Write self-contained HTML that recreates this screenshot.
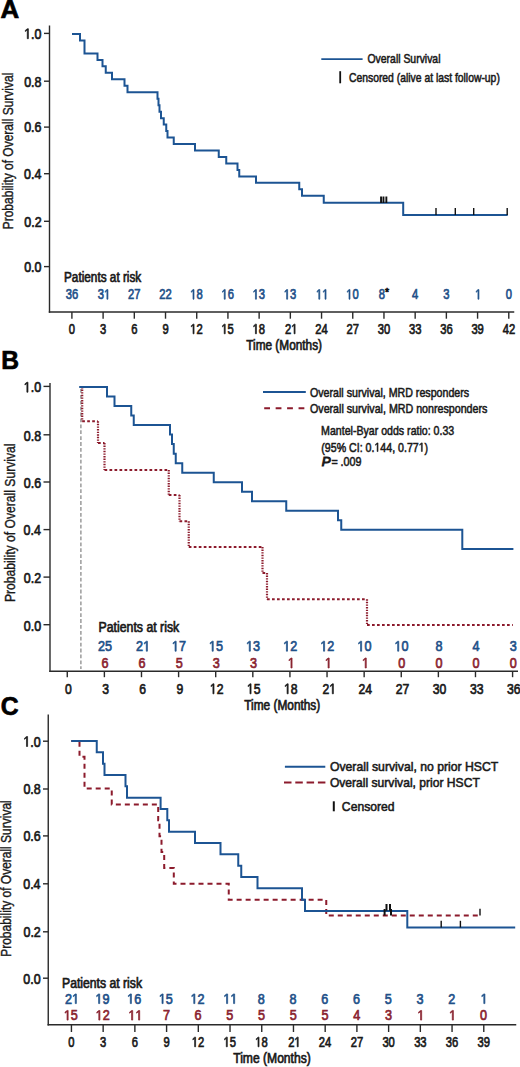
<!DOCTYPE html>
<html><head><meta charset="utf-8"><style>
html,body{margin:0;padding:0;background:#fff;}
svg{display:block;}
text{font-family:"Liberation Sans",sans-serif;stroke:currentColor;stroke-width:0.7px;}
</style></head><body>
<svg width="520" height="1067" viewBox="0 0 520 1067">
<rect width="520" height="1067" fill="#fff"/>
<text x="0.50" y="17.80" font-size="26" fill="#000" color="#000" style="stroke-width:0.7px" font-weight="bold" textLength="18.67" lengthAdjust="spacingAndGlyphs">A</text>
<line x1="49.5" y1="25.6" x2="49.5" y2="312.7" stroke="#2a2a2a" stroke-width="1.4"/>
<line x1="48.8" y1="312" x2="514.25" y2="312" stroke="#2a2a2a" stroke-width="1.4"/>
<line x1="44" y1="33.4" x2="49.5" y2="33.4" stroke="#2a2a2a" stroke-width="1.4"/>
<text x="24.14" y="38.70" font-size="14.5" fill="#1a1a1a" color="#1a1a1a" style="stroke-width:0.7px" textLength="17.34" lengthAdjust="spacingAndGlyphs"> .0</text>
<path transform="translate(24.14,38.70) scale(0.00609,-0.00708)" d="M515,0V1237L197,1010V1180L530,1409H696V0Z" fill="#1a1a1a" stroke="#1a1a1a" stroke-width="0.7" vector-effect="non-scaling-stroke"/>
<line x1="44" y1="81.2" x2="49.5" y2="81.2" stroke="#2a2a2a" stroke-width="1.4"/>
<text x="24.19" y="86.50" font-size="14.5" fill="#1a1a1a" color="#1a1a1a" style="stroke-width:0.7px" textLength="17.34" lengthAdjust="spacingAndGlyphs">0.8</text>
<line x1="44" y1="127.1" x2="49.5" y2="127.1" stroke="#2a2a2a" stroke-width="1.4"/>
<text x="24.19" y="132.40" font-size="14.5" fill="#1a1a1a" color="#1a1a1a" style="stroke-width:0.7px" textLength="17.34" lengthAdjust="spacingAndGlyphs">0.6</text>
<line x1="44" y1="173.7" x2="49.5" y2="173.7" stroke="#2a2a2a" stroke-width="1.4"/>
<text x="24.02" y="179.00" font-size="14.5" fill="#1a1a1a" color="#1a1a1a" style="stroke-width:0.7px" textLength="17.34" lengthAdjust="spacingAndGlyphs">0.4</text>
<line x1="44" y1="221.3" x2="49.5" y2="221.3" stroke="#2a2a2a" stroke-width="1.4"/>
<text x="24.27" y="226.60" font-size="14.5" fill="#1a1a1a" color="#1a1a1a" style="stroke-width:0.7px" textLength="17.34" lengthAdjust="spacingAndGlyphs">0.2</text>
<line x1="44" y1="266.6" x2="49.5" y2="266.6" stroke="#2a2a2a" stroke-width="1.4"/>
<text x="24.14" y="271.90" font-size="14.5" fill="#1a1a1a" color="#1a1a1a" style="stroke-width:0.7px" textLength="17.34" lengthAdjust="spacingAndGlyphs">0.0</text>
<line x1="71.9" y1="312" x2="71.9" y2="318.7" stroke="#2a2a2a" stroke-width="1.4"/>
<text x="68.78" y="333.80" font-size="14" fill="#1a1a1a" color="#1a1a1a" style="stroke-width:0.7px" textLength="6.23" lengthAdjust="spacingAndGlyphs">0</text>
<text x="65.70" y="299.20" font-size="14" fill="#1f5189" color="#1f5189" style="stroke-width:0.7px" textLength="12.46" lengthAdjust="spacingAndGlyphs">36</text>
<line x1="103.106" y1="312" x2="103.106" y2="318.7" stroke="#2a2a2a" stroke-width="1.4"/>
<text x="100.03" y="333.80" font-size="14" fill="#1a1a1a" color="#1a1a1a" style="stroke-width:0.7px" textLength="6.23" lengthAdjust="spacingAndGlyphs">3</text>
<text x="97.87" y="299.20" font-size="14" fill="#1f5189" color="#1f5189" style="stroke-width:0.7px" textLength="12.46" lengthAdjust="spacingAndGlyphs">3 </text>
<path transform="translate(104.10,299.20) scale(0.00547,-0.00684)" d="M515,0V1237L197,1010V1180L530,1409H696V0Z" fill="#1f5189" stroke="#1f5189" stroke-width="0.7" vector-effect="non-scaling-stroke"/>
<line x1="134.312" y1="312" x2="134.312" y2="318.7" stroke="#2a2a2a" stroke-width="1.4"/>
<text x="131.17" y="333.80" font-size="14" fill="#1a1a1a" color="#1a1a1a" style="stroke-width:0.7px" textLength="6.23" lengthAdjust="spacingAndGlyphs">6</text>
<text x="128.07" y="299.20" font-size="14" fill="#1f5189" color="#1f5189" style="stroke-width:0.7px" textLength="12.46" lengthAdjust="spacingAndGlyphs">27</text>
<line x1="165.518" y1="312" x2="165.518" y2="318.7" stroke="#2a2a2a" stroke-width="1.4"/>
<text x="162.42" y="333.80" font-size="14" fill="#1a1a1a" color="#1a1a1a" style="stroke-width:0.7px" textLength="6.23" lengthAdjust="spacingAndGlyphs">9</text>
<text x="159.28" y="299.20" font-size="14" fill="#1f5189" color="#1f5189" style="stroke-width:0.7px" textLength="12.46" lengthAdjust="spacingAndGlyphs">22</text>
<line x1="196.724" y1="312" x2="196.724" y2="318.7" stroke="#2a2a2a" stroke-width="1.4"/>
<text x="190.23" y="333.80" font-size="14" fill="#1a1a1a" color="#1a1a1a" style="stroke-width:0.7px" textLength="12.46" lengthAdjust="spacingAndGlyphs"> 2</text>
<path transform="translate(190.23,333.80) scale(0.00547,-0.00684)" d="M515,0V1237L197,1010V1180L530,1409H696V0Z" fill="#1a1a1a" stroke="#1a1a1a" stroke-width="0.7" vector-effect="non-scaling-stroke"/>
<text x="190.19" y="299.20" font-size="14" fill="#1f5189" color="#1f5189" style="stroke-width:0.7px" textLength="12.46" lengthAdjust="spacingAndGlyphs"> 8</text>
<path transform="translate(190.19,299.20) scale(0.00547,-0.00684)" d="M515,0V1237L197,1010V1180L530,1409H696V0Z" fill="#1f5189" stroke="#1f5189" stroke-width="0.7" vector-effect="non-scaling-stroke"/>
<line x1="227.93" y1="312" x2="227.93" y2="318.7" stroke="#2a2a2a" stroke-width="1.4"/>
<text x="221.39" y="333.80" font-size="14" fill="#1a1a1a" color="#1a1a1a" style="stroke-width:0.7px" textLength="12.46" lengthAdjust="spacingAndGlyphs"> 5</text>
<path transform="translate(221.39,333.80) scale(0.00547,-0.00684)" d="M515,0V1237L197,1010V1180L530,1409H696V0Z" fill="#1a1a1a" stroke="#1a1a1a" stroke-width="0.7" vector-effect="non-scaling-stroke"/>
<text x="221.41" y="299.20" font-size="14" fill="#1f5189" color="#1f5189" style="stroke-width:0.7px" textLength="12.46" lengthAdjust="spacingAndGlyphs"> 6</text>
<path transform="translate(221.41,299.20) scale(0.00547,-0.00684)" d="M515,0V1237L197,1010V1180L530,1409H696V0Z" fill="#1f5189" stroke="#1f5189" stroke-width="0.7" vector-effect="non-scaling-stroke"/>
<line x1="259.13599999999997" y1="312" x2="259.13599999999997" y2="318.7" stroke="#2a2a2a" stroke-width="1.4"/>
<text x="252.60" y="333.80" font-size="14" fill="#1a1a1a" color="#1a1a1a" style="stroke-width:0.7px" textLength="12.46" lengthAdjust="spacingAndGlyphs"> 8</text>
<path transform="translate(252.60,333.80) scale(0.00547,-0.00684)" d="M515,0V1237L197,1010V1180L530,1409H696V0Z" fill="#1a1a1a" stroke="#1a1a1a" stroke-width="0.7" vector-effect="non-scaling-stroke"/>
<text x="252.62" y="299.20" font-size="14" fill="#1f5189" color="#1f5189" style="stroke-width:0.7px" textLength="12.46" lengthAdjust="spacingAndGlyphs"> 3</text>
<path transform="translate(252.62,299.20) scale(0.00547,-0.00684)" d="M515,0V1237L197,1010V1180L530,1409H696V0Z" fill="#1f5189" stroke="#1f5189" stroke-width="0.7" vector-effect="non-scaling-stroke"/>
<line x1="290.342" y1="312" x2="290.342" y2="318.7" stroke="#2a2a2a" stroke-width="1.4"/>
<text x="285.04" y="333.80" font-size="14" fill="#1a1a1a" color="#1a1a1a" style="stroke-width:0.7px" textLength="12.46" lengthAdjust="spacingAndGlyphs">2 </text>
<path transform="translate(291.27,333.80) scale(0.00547,-0.00684)" d="M515,0V1237L197,1010V1180L530,1409H696V0Z" fill="#1a1a1a" stroke="#1a1a1a" stroke-width="0.7" vector-effect="non-scaling-stroke"/>
<text x="283.82" y="299.20" font-size="14" fill="#1f5189" color="#1f5189" style="stroke-width:0.7px" textLength="12.46" lengthAdjust="spacingAndGlyphs"> 3</text>
<path transform="translate(283.82,299.20) scale(0.00547,-0.00684)" d="M515,0V1237L197,1010V1180L530,1409H696V0Z" fill="#1f5189" stroke="#1f5189" stroke-width="0.7" vector-effect="non-scaling-stroke"/>
<line x1="321.548" y1="312" x2="321.548" y2="318.7" stroke="#2a2a2a" stroke-width="1.4"/>
<text x="315.19" y="333.80" font-size="14" fill="#1a1a1a" color="#1a1a1a" style="stroke-width:0.7px" textLength="12.46" lengthAdjust="spacingAndGlyphs">24</text>
<text x="315.99" y="299.20" font-size="14" fill="#1f5189" color="#1f5189" style="stroke-width:0.7px" textLength="12.46" lengthAdjust="spacingAndGlyphs">  </text>
<path transform="translate(315.99,299.20) scale(0.00547,-0.00684)" d="M515,0V1237L197,1010V1180L530,1409H696V0Z" fill="#1f5189" stroke="#1f5189" stroke-width="0.7" vector-effect="non-scaling-stroke"/>
<path transform="translate(322.22,299.20) scale(0.00547,-0.00684)" d="M515,0V1237L197,1010V1180L530,1409H696V0Z" fill="#1f5189" stroke="#1f5189" stroke-width="0.7" vector-effect="non-scaling-stroke"/>
<line x1="352.754" y1="312" x2="352.754" y2="318.7" stroke="#2a2a2a" stroke-width="1.4"/>
<text x="346.51" y="333.80" font-size="14" fill="#1a1a1a" color="#1a1a1a" style="stroke-width:0.7px" textLength="12.46" lengthAdjust="spacingAndGlyphs">27</text>
<text x="346.20" y="299.20" font-size="14" fill="#1f5189" color="#1f5189" style="stroke-width:0.7px" textLength="12.46" lengthAdjust="spacingAndGlyphs"> 0</text>
<path transform="translate(346.20,299.20) scale(0.00547,-0.00684)" d="M515,0V1237L197,1010V1180L530,1409H696V0Z" fill="#1f5189" stroke="#1f5189" stroke-width="0.7" vector-effect="non-scaling-stroke"/>
<line x1="383.96000000000004" y1="312" x2="383.96000000000004" y2="318.7" stroke="#2a2a2a" stroke-width="1.4"/>
<text x="377.72" y="333.80" font-size="14" fill="#1a1a1a" color="#1a1a1a" style="stroke-width:0.7px" textLength="12.46" lengthAdjust="spacingAndGlyphs">30</text>
<text x="378.63" y="298.90" font-size="14" fill="#1f5189" color="#1f5189" style="stroke-width:0.7px" textLength="6.23" lengthAdjust="spacingAndGlyphs">8</text>
<text x="384.9" y="295.6" font-size="10.5" fill="#111" color="#111">*</text>
<line x1="415.16599999999994" y1="312" x2="415.16599999999994" y2="318.7" stroke="#2a2a2a" stroke-width="1.4"/>
<text x="408.97" y="333.80" font-size="14" fill="#1a1a1a" color="#1a1a1a" style="stroke-width:0.7px" textLength="12.46" lengthAdjust="spacingAndGlyphs">33</text>
<text x="412.09" y="299.20" font-size="14" fill="#1f5189" color="#1f5189" style="stroke-width:0.7px" textLength="6.23" lengthAdjust="spacingAndGlyphs">4</text>
<line x1="446.37199999999996" y1="312" x2="446.37199999999996" y2="318.7" stroke="#2a2a2a" stroke-width="1.4"/>
<text x="440.17" y="333.80" font-size="14" fill="#1a1a1a" color="#1a1a1a" style="stroke-width:0.7px" textLength="12.46" lengthAdjust="spacingAndGlyphs">36</text>
<text x="443.29" y="299.20" font-size="14" fill="#1f5189" color="#1f5189" style="stroke-width:0.7px" textLength="6.23" lengthAdjust="spacingAndGlyphs">3</text>
<line x1="477.578" y1="312" x2="477.578" y2="318.7" stroke="#2a2a2a" stroke-width="1.4"/>
<text x="471.40" y="333.80" font-size="14" fill="#1a1a1a" color="#1a1a1a" style="stroke-width:0.7px" textLength="12.46" lengthAdjust="spacingAndGlyphs">39</text>
<text x="475.14" y="299.20" font-size="14" fill="#1f5189" color="#1f5189" style="stroke-width:0.7px" textLength="6.23" lengthAdjust="spacingAndGlyphs"> </text>
<path transform="translate(475.14,299.20) scale(0.00547,-0.00684)" d="M515,0V1237L197,1010V1180L530,1409H696V0Z" fill="#1f5189" stroke="#1f5189" stroke-width="0.7" vector-effect="non-scaling-stroke"/>
<line x1="508.784" y1="312" x2="508.784" y2="318.7" stroke="#2a2a2a" stroke-width="1.4"/>
<text x="502.70" y="333.80" font-size="14" fill="#1a1a1a" color="#1a1a1a" style="stroke-width:0.7px" textLength="12.46" lengthAdjust="spacingAndGlyphs">42</text>
<text x="505.66" y="299.20" font-size="14" fill="#1f5189" color="#1f5189" style="stroke-width:0.7px" textLength="6.23" lengthAdjust="spacingAndGlyphs">0</text>
<text x="246.25" y="350.40" font-size="14" fill="#1a1a1a" color="#1a1a1a" style="stroke-width:0.7px" textLength="75.73" lengthAdjust="spacingAndGlyphs">Time (Months)</text>
<text x="64.03" y="282.20" font-size="14" fill="#1a1a1a" color="#1a1a1a" style="stroke-width:0.7px" textLength="77.23" lengthAdjust="spacingAndGlyphs">Patients at risk</text>
<text transform="translate(12.70,228.30) rotate(-90)" x="-1.00" y="0" font-size="15" fill="#1a1a1a" color="#1a1a1a" style="stroke-width:0.4px" textLength="156.67" lengthAdjust="spacingAndGlyphs">Probability of Overall Survival</text>
<line x1="321.3" y1="59.2" x2="362.6" y2="59.2" stroke="#1c5493" stroke-width="1.7"/>
<text x="367.50" y="63.00" font-size="12.5" fill="#1a1a1a" color="#1a1a1a" style="stroke-width:0.55px" textLength="72.99" lengthAdjust="spacingAndGlyphs">Overall Survival</text>
<line x1="340.2" y1="71.2" x2="340.2" y2="83.3" stroke="#111" stroke-width="1.8"/>
<text x="348.96" y="82.00" font-size="12.5" fill="#1a1a1a" color="#1a1a1a" style="stroke-width:0.55px" textLength="150.88" lengthAdjust="spacingAndGlyphs">Censored (alive at last follow-up)</text>
<path d="M72,34.00 H80 V40.47 H84.5 V53.42 H97.5 V59.89 H102.5 V66.36 H105.75 V72.83 H112 V79.31 H124.5 V85.78 H127.5 V92.25 H157.5 V98.72 H158.5 V105.19 H159.5 V111.67 H161 V118.14 H163.75 V124.61 H166.25 V131.08 H167.5 V137.56 H173.75 V144.03 H195 V150.50 H218.75 V156.97 H226.25 V163.44 H237.5 V169.92 H239.25 V176.39 H256 V182.86 H299.25 V189.33 H302 V195.81 H323.75 V202.80 H403.2 V215.00 H507.7" fill="none" stroke="#1c5493" stroke-width="2" stroke-linejoin="miter" stroke-linecap="butt"/>
<line x1="381.05" y1="196.5" x2="381.05" y2="203" stroke="#111" stroke-width="1.9"/>
<line x1="383.45" y1="196.5" x2="383.45" y2="203" stroke="#111" stroke-width="1.9"/>
<line x1="386.35" y1="196.5" x2="386.35" y2="203" stroke="#111" stroke-width="1.9"/>
<line x1="436" y1="208" x2="436" y2="215" stroke="#111" stroke-width="1.4"/>
<line x1="455.3" y1="208" x2="455.3" y2="215" stroke="#111" stroke-width="1.4"/>
<line x1="473.7" y1="208" x2="473.7" y2="215" stroke="#111" stroke-width="1.4"/>
<line x1="507.2" y1="208" x2="507.2" y2="215" stroke="#111" stroke-width="1.4"/>
<text x="1.14" y="369.10" font-size="26" fill="#000" color="#000" style="stroke-width:0.7px" font-weight="bold" textLength="17.77" lengthAdjust="spacingAndGlyphs">B</text>
<line x1="50" y1="383" x2="50" y2="671.95" stroke="#2a2a2a" stroke-width="1.4"/>
<line x1="49.3" y1="671.25" x2="518" y2="671.25" stroke="#2a2a2a" stroke-width="1.4"/>
<line x1="43.5" y1="386.4" x2="50" y2="386.4" stroke="#2a2a2a" stroke-width="1.4"/>
<text x="23.74" y="392.20" font-size="14.5" fill="#1a1a1a" color="#1a1a1a" style="stroke-width:0.7px" textLength="17.34" lengthAdjust="spacingAndGlyphs"> .0</text>
<path transform="translate(23.74,392.20) scale(0.00609,-0.00708)" d="M515,0V1237L197,1010V1180L530,1409H696V0Z" fill="#1a1a1a" stroke="#1a1a1a" stroke-width="0.7" vector-effect="non-scaling-stroke"/>
<line x1="43.5" y1="434.8" x2="50" y2="434.8" stroke="#2a2a2a" stroke-width="1.4"/>
<text x="23.79" y="440.60" font-size="14.5" fill="#1a1a1a" color="#1a1a1a" style="stroke-width:0.7px" textLength="17.34" lengthAdjust="spacingAndGlyphs">0.8</text>
<line x1="43.5" y1="482" x2="50" y2="482" stroke="#2a2a2a" stroke-width="1.4"/>
<text x="23.79" y="487.80" font-size="14.5" fill="#1a1a1a" color="#1a1a1a" style="stroke-width:0.7px" textLength="17.34" lengthAdjust="spacingAndGlyphs">0.6</text>
<line x1="43.5" y1="529.6" x2="50" y2="529.6" stroke="#2a2a2a" stroke-width="1.4"/>
<text x="23.62" y="535.40" font-size="14.5" fill="#1a1a1a" color="#1a1a1a" style="stroke-width:0.7px" textLength="17.34" lengthAdjust="spacingAndGlyphs">0.4</text>
<line x1="43.5" y1="577.1" x2="50" y2="577.1" stroke="#2a2a2a" stroke-width="1.4"/>
<text x="23.87" y="582.90" font-size="14.5" fill="#1a1a1a" color="#1a1a1a" style="stroke-width:0.7px" textLength="17.34" lengthAdjust="spacingAndGlyphs">0.2</text>
<line x1="43.5" y1="624.7" x2="50" y2="624.7" stroke="#2a2a2a" stroke-width="1.4"/>
<text x="23.74" y="630.50" font-size="14.5" fill="#1a1a1a" color="#1a1a1a" style="stroke-width:0.7px" textLength="17.34" lengthAdjust="spacingAndGlyphs">0.0</text>
<line x1="67.27" y1="671.25" x2="67.27" y2="677.2" stroke="#2a2a2a" stroke-width="1.4"/>
<text x="65.09" y="693.80" font-size="14.5" fill="#1a1a1a" color="#1a1a1a" style="stroke-width:0.7px" textLength="6.77" lengthAdjust="spacingAndGlyphs">0</text>
<line x1="104.38" y1="671.25" x2="104.38" y2="677.2" stroke="#2a2a2a" stroke-width="1.4"/>
<text x="102.22" y="693.80" font-size="14.5" fill="#1a1a1a" color="#1a1a1a" style="stroke-width:0.7px" textLength="6.77" lengthAdjust="spacingAndGlyphs">3</text>
<text x="97.91" y="651.20" font-size="14.5" fill="#1f5189" color="#1f5189" style="stroke-width:0.7px" textLength="14.03" lengthAdjust="spacingAndGlyphs">25</text>
<text x="101.41" y="668.00" font-size="14.5" fill="#8a2430" color="#8a2430" style="stroke-width:0.7px" textLength="7.02" lengthAdjust="spacingAndGlyphs">6</text>
<line x1="141.49" y1="671.25" x2="141.49" y2="677.2" stroke="#2a2a2a" stroke-width="1.4"/>
<text x="139.25" y="693.80" font-size="14.5" fill="#1a1a1a" color="#1a1a1a" style="stroke-width:0.7px" textLength="6.77" lengthAdjust="spacingAndGlyphs">6</text>
<text x="136.11" y="651.20" font-size="14.5" fill="#1f5189" color="#1f5189" style="stroke-width:0.7px" textLength="14.03" lengthAdjust="spacingAndGlyphs">2 </text>
<path transform="translate(143.13,651.20) scale(0.00616,-0.00708)" d="M515,0V1237L197,1010V1180L530,1409H696V0Z" fill="#1f5189" stroke="#1f5189" stroke-width="0.7" vector-effect="non-scaling-stroke"/>
<text x="138.52" y="668.00" font-size="14.5" fill="#8a2430" color="#8a2430" style="stroke-width:0.7px" textLength="7.02" lengthAdjust="spacingAndGlyphs">6</text>
<line x1="178.6" y1="671.25" x2="178.6" y2="677.2" stroke="#2a2a2a" stroke-width="1.4"/>
<text x="176.40" y="693.80" font-size="14.5" fill="#1a1a1a" color="#1a1a1a" style="stroke-width:0.7px" textLength="6.77" lengthAdjust="spacingAndGlyphs">9</text>
<text x="171.89" y="651.20" font-size="14.5" fill="#1f5189" color="#1f5189" style="stroke-width:0.7px" textLength="14.03" lengthAdjust="spacingAndGlyphs"> 7</text>
<path transform="translate(171.89,651.20) scale(0.00616,-0.00708)" d="M515,0V1237L197,1010V1180L530,1409H696V0Z" fill="#1f5189" stroke="#1f5189" stroke-width="0.7" vector-effect="non-scaling-stroke"/>
<text x="175.70" y="668.00" font-size="14.5" fill="#8a2430" color="#8a2430" style="stroke-width:0.7px" textLength="7.02" lengthAdjust="spacingAndGlyphs">5</text>
<line x1="215.70999999999998" y1="671.25" x2="215.70999999999998" y2="677.2" stroke="#2a2a2a" stroke-width="1.4"/>
<text x="209.86" y="693.80" font-size="14.5" fill="#1a1a1a" color="#1a1a1a" style="stroke-width:0.7px" textLength="13.55" lengthAdjust="spacingAndGlyphs"> 2</text>
<path transform="translate(209.86,693.80) scale(0.00595,-0.00708)" d="M515,0V1237L197,1010V1180L530,1409H696V0Z" fill="#1a1a1a" stroke="#1a1a1a" stroke-width="0.7" vector-effect="non-scaling-stroke"/>
<text x="208.96" y="651.20" font-size="14.5" fill="#1f5189" color="#1f5189" style="stroke-width:0.7px" textLength="14.03" lengthAdjust="spacingAndGlyphs"> 5</text>
<path transform="translate(208.96,651.20) scale(0.00616,-0.00708)" d="M515,0V1237L197,1010V1180L530,1409H696V0Z" fill="#1f5189" stroke="#1f5189" stroke-width="0.7" vector-effect="non-scaling-stroke"/>
<text x="212.83" y="668.00" font-size="14.5" fill="#8a2430" color="#8a2430" style="stroke-width:0.7px" textLength="7.02" lengthAdjust="spacingAndGlyphs">3</text>
<line x1="252.82" y1="671.25" x2="252.82" y2="677.2" stroke="#2a2a2a" stroke-width="1.4"/>
<text x="246.92" y="693.80" font-size="14.5" fill="#1a1a1a" color="#1a1a1a" style="stroke-width:0.7px" textLength="13.55" lengthAdjust="spacingAndGlyphs"> 5</text>
<path transform="translate(246.92,693.80) scale(0.00595,-0.00708)" d="M515,0V1237L197,1010V1180L530,1409H696V0Z" fill="#1a1a1a" stroke="#1a1a1a" stroke-width="0.7" vector-effect="non-scaling-stroke"/>
<text x="246.07" y="651.20" font-size="14.5" fill="#1f5189" color="#1f5189" style="stroke-width:0.7px" textLength="14.03" lengthAdjust="spacingAndGlyphs"> 3</text>
<path transform="translate(246.07,651.20) scale(0.00616,-0.00708)" d="M515,0V1237L197,1010V1180L530,1409H696V0Z" fill="#1f5189" stroke="#1f5189" stroke-width="0.7" vector-effect="non-scaling-stroke"/>
<text x="249.94" y="668.00" font-size="14.5" fill="#8a2430" color="#8a2430" style="stroke-width:0.7px" textLength="7.02" lengthAdjust="spacingAndGlyphs">3</text>
<line x1="289.93" y1="671.25" x2="289.93" y2="677.2" stroke="#2a2a2a" stroke-width="1.4"/>
<text x="284.03" y="693.80" font-size="14.5" fill="#1a1a1a" color="#1a1a1a" style="stroke-width:0.7px" textLength="13.55" lengthAdjust="spacingAndGlyphs"> 8</text>
<path transform="translate(284.03,693.80) scale(0.00595,-0.00708)" d="M515,0V1237L197,1010V1180L530,1409H696V0Z" fill="#1a1a1a" stroke="#1a1a1a" stroke-width="0.7" vector-effect="non-scaling-stroke"/>
<text x="283.22" y="651.20" font-size="14.5" fill="#1f5189" color="#1f5189" style="stroke-width:0.7px" textLength="14.03" lengthAdjust="spacingAndGlyphs"> 2</text>
<path transform="translate(283.22,651.20) scale(0.00616,-0.00708)" d="M515,0V1237L197,1010V1180L530,1409H696V0Z" fill="#1f5189" stroke="#1f5189" stroke-width="0.7" vector-effect="non-scaling-stroke"/>
<text x="287.78" y="668.00" font-size="14.5" fill="#8a2430" color="#8a2430" style="stroke-width:0.7px" textLength="7.02" lengthAdjust="spacingAndGlyphs"> </text>
<path transform="translate(287.78,668.00) scale(0.00616,-0.00708)" d="M515,0V1237L197,1010V1180L530,1409H696V0Z" fill="#8a2430" stroke="#8a2430" stroke-width="0.7" vector-effect="non-scaling-stroke"/>
<line x1="327.03999999999996" y1="671.25" x2="327.03999999999996" y2="677.2" stroke="#2a2a2a" stroke-width="1.4"/>
<text x="322.47" y="693.80" font-size="14.5" fill="#1a1a1a" color="#1a1a1a" style="stroke-width:0.7px" textLength="13.55" lengthAdjust="spacingAndGlyphs">2 </text>
<path transform="translate(329.24,693.80) scale(0.00595,-0.00708)" d="M515,0V1237L197,1010V1180L530,1409H696V0Z" fill="#1a1a1a" stroke="#1a1a1a" stroke-width="0.7" vector-effect="non-scaling-stroke"/>
<text x="320.33" y="651.20" font-size="14.5" fill="#1f5189" color="#1f5189" style="stroke-width:0.7px" textLength="14.03" lengthAdjust="spacingAndGlyphs"> 2</text>
<path transform="translate(320.33,651.20) scale(0.00616,-0.00708)" d="M515,0V1237L197,1010V1180L530,1409H696V0Z" fill="#1f5189" stroke="#1f5189" stroke-width="0.7" vector-effect="non-scaling-stroke"/>
<text x="324.89" y="668.00" font-size="14.5" fill="#8a2430" color="#8a2430" style="stroke-width:0.7px" textLength="7.02" lengthAdjust="spacingAndGlyphs"> </text>
<path transform="translate(324.89,668.00) scale(0.00616,-0.00708)" d="M515,0V1237L197,1010V1180L530,1409H696V0Z" fill="#8a2430" stroke="#8a2430" stroke-width="0.7" vector-effect="non-scaling-stroke"/>
<line x1="364.15" y1="671.25" x2="364.15" y2="677.2" stroke="#2a2a2a" stroke-width="1.4"/>
<text x="358.44" y="693.80" font-size="14.5" fill="#1a1a1a" color="#1a1a1a" style="stroke-width:0.7px" textLength="13.55" lengthAdjust="spacingAndGlyphs">24</text>
<text x="357.38" y="651.20" font-size="14.5" fill="#1f5189" color="#1f5189" style="stroke-width:0.7px" textLength="14.03" lengthAdjust="spacingAndGlyphs"> 0</text>
<path transform="translate(357.38,651.20) scale(0.00616,-0.00708)" d="M515,0V1237L197,1010V1180L530,1409H696V0Z" fill="#1f5189" stroke="#1f5189" stroke-width="0.7" vector-effect="non-scaling-stroke"/>
<text x="362.00" y="668.00" font-size="14.5" fill="#8a2430" color="#8a2430" style="stroke-width:0.7px" textLength="7.02" lengthAdjust="spacingAndGlyphs"> </text>
<path transform="translate(362.00,668.00) scale(0.00616,-0.00708)" d="M515,0V1237L197,1010V1180L530,1409H696V0Z" fill="#8a2430" stroke="#8a2430" stroke-width="0.7" vector-effect="non-scaling-stroke"/>
<line x1="401.25999999999993" y1="671.25" x2="401.25999999999993" y2="677.2" stroke="#2a2a2a" stroke-width="1.4"/>
<text x="395.68" y="693.80" font-size="14.5" fill="#1a1a1a" color="#1a1a1a" style="stroke-width:0.7px" textLength="13.55" lengthAdjust="spacingAndGlyphs">27</text>
<text x="394.49" y="651.20" font-size="14.5" fill="#1f5189" color="#1f5189" style="stroke-width:0.7px" textLength="14.03" lengthAdjust="spacingAndGlyphs"> 0</text>
<path transform="translate(394.49,651.20) scale(0.00616,-0.00708)" d="M515,0V1237L197,1010V1180L530,1409H696V0Z" fill="#1f5189" stroke="#1f5189" stroke-width="0.7" vector-effect="non-scaling-stroke"/>
<text x="398.36" y="668.00" font-size="14.5" fill="#8a2430" color="#8a2430" style="stroke-width:0.7px" textLength="7.02" lengthAdjust="spacingAndGlyphs">0</text>
<line x1="438.36999999999995" y1="671.25" x2="438.36999999999995" y2="677.2" stroke="#2a2a2a" stroke-width="1.4"/>
<text x="432.81" y="693.80" font-size="14.5" fill="#1a1a1a" color="#1a1a1a" style="stroke-width:0.7px" textLength="13.55" lengthAdjust="spacingAndGlyphs">30</text>
<text x="435.45" y="651.20" font-size="14.5" fill="#1f5189" color="#1f5189" style="stroke-width:0.7px" textLength="7.02" lengthAdjust="spacingAndGlyphs">8</text>
<text x="435.47" y="668.00" font-size="14.5" fill="#8a2430" color="#8a2430" style="stroke-width:0.7px" textLength="7.02" lengthAdjust="spacingAndGlyphs">0</text>
<line x1="475.47999999999996" y1="671.25" x2="475.47999999999996" y2="677.2" stroke="#2a2a2a" stroke-width="1.4"/>
<text x="469.94" y="693.80" font-size="14.5" fill="#1a1a1a" color="#1a1a1a" style="stroke-width:0.7px" textLength="13.55" lengthAdjust="spacingAndGlyphs">33</text>
<text x="472.60" y="651.20" font-size="14.5" fill="#1f5189" color="#1f5189" style="stroke-width:0.7px" textLength="7.02" lengthAdjust="spacingAndGlyphs">4</text>
<text x="472.58" y="668.00" font-size="14.5" fill="#8a2430" color="#8a2430" style="stroke-width:0.7px" textLength="7.02" lengthAdjust="spacingAndGlyphs">0</text>
<line x1="512.59" y1="671.25" x2="512.59" y2="677.2" stroke="#2a2a2a" stroke-width="1.4"/>
<text x="507.05" y="693.80" font-size="14.5" fill="#1a1a1a" color="#1a1a1a" style="stroke-width:0.7px" textLength="13.55" lengthAdjust="spacingAndGlyphs">36</text>
<text x="509.71" y="651.20" font-size="14.5" fill="#1f5189" color="#1f5189" style="stroke-width:0.7px" textLength="7.02" lengthAdjust="spacingAndGlyphs">3</text>
<text x="509.69" y="668.00" font-size="14.5" fill="#8a2430" color="#8a2430" style="stroke-width:0.7px" textLength="7.02" lengthAdjust="spacingAndGlyphs">0</text>
<text x="244.25" y="710.20" font-size="14" fill="#1a1a1a" color="#1a1a1a" style="stroke-width:0.7px" textLength="75.99" lengthAdjust="spacingAndGlyphs">Time (Months)</text>
<text x="98.59" y="632.30" font-size="14" fill="#1a1a1a" color="#1a1a1a" style="stroke-width:0.7px" textLength="80.62" lengthAdjust="spacingAndGlyphs">Patients at risk</text>
<text transform="translate(15.20,601.10) rotate(-90)" x="-1.01" y="0" font-size="15" fill="#1a1a1a" color="#1a1a1a" style="stroke-width:0.4px" textLength="158.59" lengthAdjust="spacingAndGlyphs">Probability of Overall Survival</text>
<line x1="80.9" y1="389" x2="80.9" y2="669" stroke="#8a8a8a" stroke-width="1.3" stroke-dasharray="3.8 2.1"/>
<line x1="263" y1="392" x2="305.8" y2="392" stroke="#1c5493" stroke-width="2"/>
<line x1="264.2" y1="408.3" x2="304.4" y2="408.3" stroke="#8c1b2c" stroke-width="2" stroke-dasharray="5.8 5.65"/>
<text x="309.99" y="396.60" font-size="12.5" fill="#1a1a1a" color="#1a1a1a" style="stroke-width:0.55px" textLength="159.15" lengthAdjust="spacingAndGlyphs">Overall survival, MRD responders</text>
<text x="309.99" y="412.80" font-size="12.5" fill="#1a1a1a" color="#1a1a1a" style="stroke-width:0.55px" textLength="177.41" lengthAdjust="spacingAndGlyphs">Overall survival, MRD nonresponders</text>
<text x="321.11" y="435.30" font-size="12.5" fill="#1a1a1a" color="#1a1a1a" style="stroke-width:0.55px" textLength="133.12" lengthAdjust="spacingAndGlyphs">Mantel-Byar odds ratio: 0.33</text>
<text x="321.32" y="451.50" font-size="12.5" fill="#1a1a1a" color="#1a1a1a" style="stroke-width:0.55px" textLength="106.83" lengthAdjust="spacingAndGlyphs">(95% CI: 0. 44, 0.77 )</text>
<path transform="translate(374.43,451.50) scale(0.00518,-0.00610)" d="M515,0V1237L197,1010V1180L530,1409H696V0Z" fill="#1a1a1a" stroke="#1a1a1a" stroke-width="0.55" vector-effect="non-scaling-stroke"/>
<path transform="translate(418.71,451.50) scale(0.00518,-0.00610)" d="M515,0V1237L197,1010V1180L530,1409H696V0Z" fill="#1a1a1a" stroke="#1a1a1a" stroke-width="0.55" vector-effect="non-scaling-stroke"/>
<text x="321.78" y="465.70" font-size="12.5" fill="#1a1a1a" color="#1a1a1a" style="stroke-width:0.95px" font-style="italic" textLength="8.82" lengthAdjust="spacingAndGlyphs">P</text>
<text x="331.38" y="465.70" font-size="12.5" fill="#1a1a1a" color="#1a1a1a" style="stroke-width:0.55px" textLength="30.13" lengthAdjust="spacingAndGlyphs">= .009</text>
<path d="M82.2,387.00 H82.2 M82.2,421.25 H98 M98,443.00 H104.5 M104.5,470.00 H168.75 M168.75,495.00 H179.5 M179.5,521.25 H188.75 M188.75,547.00 H262.5 M262.5,573.00 H267 M267,599.25 H367 M367,625.00 H512.8" fill="none" stroke="#8c1b2c" stroke-width="2.2" stroke-dasharray="2.7 2.3"/>
<path d=" M82.2,387.00 V421.25 M98,421.25 V443.00 M104.5,443.00 V470.00 M168.75,470.00 V495.00 M179.5,495.00 V521.25 M188.75,521.25 V547.00 M262.5,547.00 V573.00 M267,573.00 V599.25 M367,599.25 V625.00" fill="none" stroke="#8c1b2c" stroke-width="2.2" stroke-dasharray="1.4 1.2"/>
<path d="M79.2,387.00 H107 V396.52 H114.5 V406.04 H131.25 V415.56 H133.75 V425.08 H170 V434.60 H172 V444.12 H173.75 V453.64 H175.75 V463.16 H182.25 V472.68 H213.75 V482.20 H242 V491.72 H252 V501.24 H286.25 V510.76 H338 V520.28 H341.25 V529.80 H462.3 V549.00 H513.4" fill="none" stroke="#1c5493" stroke-width="2" stroke-linejoin="miter" stroke-linecap="butt"/>
<text x="0.85" y="715.30" font-size="26" fill="#000" color="#000" style="stroke-width:0.7px" font-weight="bold" textLength="17.84" lengthAdjust="spacingAndGlyphs">C</text>
<line x1="48.25" y1="714.4" x2="48.25" y2="1025.5" stroke="#2a2a2a" stroke-width="1.4"/>
<line x1="47.55" y1="1024.8" x2="516.25" y2="1024.8" stroke="#2a2a2a" stroke-width="1.4"/>
<line x1="43" y1="741.2" x2="48.25" y2="741.2" stroke="#2a2a2a" stroke-width="1.4"/>
<text x="23.34" y="746.50" font-size="14.5" fill="#1a1a1a" color="#1a1a1a" style="stroke-width:0.7px" textLength="17.34" lengthAdjust="spacingAndGlyphs"> .0</text>
<path transform="translate(23.34,746.50) scale(0.00609,-0.00708)" d="M515,0V1237L197,1010V1180L530,1409H696V0Z" fill="#1a1a1a" stroke="#1a1a1a" stroke-width="0.7" vector-effect="non-scaling-stroke"/>
<line x1="43" y1="789" x2="48.25" y2="789" stroke="#2a2a2a" stroke-width="1.4"/>
<text x="23.39" y="794.30" font-size="14.5" fill="#1a1a1a" color="#1a1a1a" style="stroke-width:0.7px" textLength="17.34" lengthAdjust="spacingAndGlyphs">0.8</text>
<line x1="43" y1="835.9" x2="48.25" y2="835.9" stroke="#2a2a2a" stroke-width="1.4"/>
<text x="23.39" y="841.20" font-size="14.5" fill="#1a1a1a" color="#1a1a1a" style="stroke-width:0.7px" textLength="17.34" lengthAdjust="spacingAndGlyphs">0.6</text>
<line x1="43" y1="883.8" x2="48.25" y2="883.8" stroke="#2a2a2a" stroke-width="1.4"/>
<text x="23.22" y="889.10" font-size="14.5" fill="#1a1a1a" color="#1a1a1a" style="stroke-width:0.7px" textLength="17.34" lengthAdjust="spacingAndGlyphs">0.4</text>
<line x1="43" y1="931.8" x2="48.25" y2="931.8" stroke="#2a2a2a" stroke-width="1.4"/>
<text x="23.47" y="937.10" font-size="14.5" fill="#1a1a1a" color="#1a1a1a" style="stroke-width:0.7px" textLength="17.34" lengthAdjust="spacingAndGlyphs">0.2</text>
<line x1="43" y1="978.2" x2="48.25" y2="978.2" stroke="#2a2a2a" stroke-width="1.4"/>
<text x="23.34" y="983.50" font-size="14.5" fill="#1a1a1a" color="#1a1a1a" style="stroke-width:0.7px" textLength="17.34" lengthAdjust="spacingAndGlyphs">0.0</text>
<line x1="71.43" y1="1024.8" x2="71.43" y2="1032" stroke="#2a2a2a" stroke-width="1.4"/>
<text x="68.31" y="1046.80" font-size="14" fill="#1a1a1a" color="#1a1a1a" style="stroke-width:0.7px" textLength="6.23" lengthAdjust="spacingAndGlyphs">0</text>
<text x="65.07" y="1003.60" font-size="14" fill="#1f5189" color="#1f5189" style="stroke-width:0.7px" textLength="14.01" lengthAdjust="spacingAndGlyphs">2 </text>
<path transform="translate(72.08,1003.60) scale(0.00615,-0.00684)" d="M515,0V1237L197,1010V1180L530,1409H696V0Z" fill="#1f5189" stroke="#1f5189" stroke-width="0.7" vector-effect="non-scaling-stroke"/>
<text x="63.87" y="1020.10" font-size="14" fill="#8a2430" color="#8a2430" style="stroke-width:0.7px" textLength="14.01" lengthAdjust="spacingAndGlyphs"> 5</text>
<path transform="translate(63.87,1020.10) scale(0.00615,-0.00684)" d="M515,0V1237L197,1010V1180L530,1409H696V0Z" fill="#8a2430" stroke="#8a2430" stroke-width="0.7" vector-effect="non-scaling-stroke"/>
<line x1="103.149" y1="1024.8" x2="103.149" y2="1032" stroke="#2a2a2a" stroke-width="1.4"/>
<text x="100.07" y="1046.80" font-size="14" fill="#1a1a1a" color="#1a1a1a" style="stroke-width:0.7px" textLength="6.23" lengthAdjust="spacingAndGlyphs">3</text>
<text x="95.44" y="1003.60" font-size="14" fill="#1f5189" color="#1f5189" style="stroke-width:0.7px" textLength="14.01" lengthAdjust="spacingAndGlyphs"> 9</text>
<path transform="translate(95.44,1003.60) scale(0.00615,-0.00684)" d="M515,0V1237L197,1010V1180L530,1409H696V0Z" fill="#1f5189" stroke="#1f5189" stroke-width="0.7" vector-effect="non-scaling-stroke"/>
<text x="95.64" y="1020.10" font-size="14" fill="#8a2430" color="#8a2430" style="stroke-width:0.7px" textLength="14.01" lengthAdjust="spacingAndGlyphs"> 2</text>
<path transform="translate(95.64,1020.10) scale(0.00615,-0.00684)" d="M515,0V1237L197,1010V1180L530,1409H696V0Z" fill="#8a2430" stroke="#8a2430" stroke-width="0.7" vector-effect="non-scaling-stroke"/>
<line x1="134.868" y1="1024.8" x2="134.868" y2="1032" stroke="#2a2a2a" stroke-width="1.4"/>
<text x="131.73" y="1046.80" font-size="14" fill="#1a1a1a" color="#1a1a1a" style="stroke-width:0.7px" textLength="6.23" lengthAdjust="spacingAndGlyphs">6</text>
<text x="127.13" y="1003.60" font-size="14" fill="#1f5189" color="#1f5189" style="stroke-width:0.7px" textLength="14.01" lengthAdjust="spacingAndGlyphs"> 6</text>
<path transform="translate(127.13,1003.60) scale(0.00615,-0.00684)" d="M515,0V1237L197,1010V1180L530,1409H696V0Z" fill="#1f5189" stroke="#1f5189" stroke-width="0.7" vector-effect="non-scaling-stroke"/>
<text x="128.42" y="1020.10" font-size="14" fill="#8a2430" color="#8a2430" style="stroke-width:0.7px" textLength="14.01" lengthAdjust="spacingAndGlyphs">  </text>
<path transform="translate(128.42,1020.10) scale(0.00615,-0.00684)" d="M515,0V1237L197,1010V1180L530,1409H696V0Z" fill="#8a2430" stroke="#8a2430" stroke-width="0.7" vector-effect="non-scaling-stroke"/>
<path transform="translate(135.42,1020.10) scale(0.00615,-0.00684)" d="M515,0V1237L197,1010V1180L530,1409H696V0Z" fill="#8a2430" stroke="#8a2430" stroke-width="0.7" vector-effect="non-scaling-stroke"/>
<line x1="166.58700000000002" y1="1024.8" x2="166.58700000000002" y2="1032" stroke="#2a2a2a" stroke-width="1.4"/>
<text x="163.49" y="1046.80" font-size="14" fill="#1a1a1a" color="#1a1a1a" style="stroke-width:0.7px" textLength="6.23" lengthAdjust="spacingAndGlyphs">9</text>
<text x="158.83" y="1003.60" font-size="14" fill="#1f5189" color="#1f5189" style="stroke-width:0.7px" textLength="14.01" lengthAdjust="spacingAndGlyphs"> 5</text>
<path transform="translate(158.83,1003.60) scale(0.00615,-0.00684)" d="M515,0V1237L197,1010V1180L530,1409H696V0Z" fill="#1f5189" stroke="#1f5189" stroke-width="0.7" vector-effect="non-scaling-stroke"/>
<text x="162.88" y="1020.10" font-size="14" fill="#8a2430" color="#8a2430" style="stroke-width:0.7px" textLength="7.01" lengthAdjust="spacingAndGlyphs">7</text>
<line x1="198.306" y1="1024.8" x2="198.306" y2="1032" stroke="#2a2a2a" stroke-width="1.4"/>
<text x="191.81" y="1046.80" font-size="14" fill="#1a1a1a" color="#1a1a1a" style="stroke-width:0.7px" textLength="12.46" lengthAdjust="spacingAndGlyphs"> 2</text>
<path transform="translate(191.81,1046.80) scale(0.00547,-0.00684)" d="M515,0V1237L197,1010V1180L530,1409H696V0Z" fill="#1a1a1a" stroke="#1a1a1a" stroke-width="0.7" vector-effect="non-scaling-stroke"/>
<text x="190.59" y="1003.60" font-size="14" fill="#1f5189" color="#1f5189" style="stroke-width:0.7px" textLength="14.01" lengthAdjust="spacingAndGlyphs"> 2</text>
<path transform="translate(190.59,1003.60) scale(0.00615,-0.00684)" d="M515,0V1237L197,1010V1180L530,1409H696V0Z" fill="#1f5189" stroke="#1f5189" stroke-width="0.7" vector-effect="non-scaling-stroke"/>
<text x="194.57" y="1020.10" font-size="14" fill="#8a2430" color="#8a2430" style="stroke-width:0.7px" textLength="7.01" lengthAdjust="spacingAndGlyphs">6</text>
<line x1="230.025" y1="1024.8" x2="230.025" y2="1032" stroke="#2a2a2a" stroke-width="1.4"/>
<text x="223.49" y="1046.80" font-size="14" fill="#1a1a1a" color="#1a1a1a" style="stroke-width:0.7px" textLength="12.46" lengthAdjust="spacingAndGlyphs"> 5</text>
<path transform="translate(223.49,1046.80) scale(0.00547,-0.00684)" d="M515,0V1237L197,1010V1180L530,1409H696V0Z" fill="#1a1a1a" stroke="#1a1a1a" stroke-width="0.7" vector-effect="non-scaling-stroke"/>
<text x="223.37" y="1003.60" font-size="14" fill="#1f5189" color="#1f5189" style="stroke-width:0.7px" textLength="14.01" lengthAdjust="spacingAndGlyphs">  </text>
<path transform="translate(223.37,1003.60) scale(0.00615,-0.00684)" d="M515,0V1237L197,1010V1180L530,1409H696V0Z" fill="#1f5189" stroke="#1f5189" stroke-width="0.7" vector-effect="non-scaling-stroke"/>
<path transform="translate(230.38,1003.60) scale(0.00615,-0.00684)" d="M515,0V1237L197,1010V1180L530,1409H696V0Z" fill="#1f5189" stroke="#1f5189" stroke-width="0.7" vector-effect="non-scaling-stroke"/>
<text x="226.34" y="1020.10" font-size="14" fill="#8a2430" color="#8a2430" style="stroke-width:0.7px" textLength="7.01" lengthAdjust="spacingAndGlyphs">5</text>
<line x1="261.744" y1="1024.8" x2="261.744" y2="1032" stroke="#2a2a2a" stroke-width="1.4"/>
<text x="255.21" y="1046.80" font-size="14" fill="#1a1a1a" color="#1a1a1a" style="stroke-width:0.7px" textLength="12.46" lengthAdjust="spacingAndGlyphs"> 8</text>
<path transform="translate(255.21,1046.80) scale(0.00547,-0.00684)" d="M515,0V1237L197,1010V1180L530,1409H696V0Z" fill="#1a1a1a" stroke="#1a1a1a" stroke-width="0.7" vector-effect="non-scaling-stroke"/>
<text x="257.83" y="1003.60" font-size="14" fill="#1f5189" color="#1f5189" style="stroke-width:0.7px" textLength="7.01" lengthAdjust="spacingAndGlyphs">8</text>
<text x="258.06" y="1020.10" font-size="14" fill="#8a2430" color="#8a2430" style="stroke-width:0.7px" textLength="7.01" lengthAdjust="spacingAndGlyphs">5</text>
<line x1="293.463" y1="1024.8" x2="293.463" y2="1032" stroke="#2a2a2a" stroke-width="1.4"/>
<text x="288.17" y="1046.80" font-size="14" fill="#1a1a1a" color="#1a1a1a" style="stroke-width:0.7px" textLength="12.46" lengthAdjust="spacingAndGlyphs">2 </text>
<path transform="translate(294.39,1046.80) scale(0.00547,-0.00684)" d="M515,0V1237L197,1010V1180L530,1409H696V0Z" fill="#1a1a1a" stroke="#1a1a1a" stroke-width="0.7" vector-effect="non-scaling-stroke"/>
<text x="289.55" y="1003.60" font-size="14" fill="#1f5189" color="#1f5189" style="stroke-width:0.7px" textLength="7.01" lengthAdjust="spacingAndGlyphs">8</text>
<text x="289.78" y="1020.10" font-size="14" fill="#8a2430" color="#8a2430" style="stroke-width:0.7px" textLength="7.01" lengthAdjust="spacingAndGlyphs">5</text>
<line x1="325.182" y1="1024.8" x2="325.182" y2="1032" stroke="#2a2a2a" stroke-width="1.4"/>
<text x="318.82" y="1046.80" font-size="14" fill="#1a1a1a" color="#1a1a1a" style="stroke-width:0.7px" textLength="12.46" lengthAdjust="spacingAndGlyphs">24</text>
<text x="321.25" y="1003.60" font-size="14" fill="#1f5189" color="#1f5189" style="stroke-width:0.7px" textLength="7.01" lengthAdjust="spacingAndGlyphs">6</text>
<text x="321.49" y="1020.10" font-size="14" fill="#8a2430" color="#8a2430" style="stroke-width:0.7px" textLength="7.01" lengthAdjust="spacingAndGlyphs">5</text>
<line x1="356.901" y1="1024.8" x2="356.901" y2="1032" stroke="#2a2a2a" stroke-width="1.4"/>
<text x="350.66" y="1046.80" font-size="14" fill="#1a1a1a" color="#1a1a1a" style="stroke-width:0.7px" textLength="12.46" lengthAdjust="spacingAndGlyphs">27</text>
<text x="352.97" y="1003.60" font-size="14" fill="#1f5189" color="#1f5189" style="stroke-width:0.7px" textLength="7.01" lengthAdjust="spacingAndGlyphs">6</text>
<text x="353.24" y="1020.10" font-size="14" fill="#8a2430" color="#8a2430" style="stroke-width:0.7px" textLength="7.01" lengthAdjust="spacingAndGlyphs">4</text>
<line x1="388.62" y1="1024.8" x2="388.62" y2="1032" stroke="#2a2a2a" stroke-width="1.4"/>
<text x="382.38" y="1046.80" font-size="14" fill="#1a1a1a" color="#1a1a1a" style="stroke-width:0.7px" textLength="12.46" lengthAdjust="spacingAndGlyphs">30</text>
<text x="384.73" y="1003.60" font-size="14" fill="#1f5189" color="#1f5189" style="stroke-width:0.7px" textLength="7.01" lengthAdjust="spacingAndGlyphs">5</text>
<text x="384.95" y="1020.10" font-size="14" fill="#8a2430" color="#8a2430" style="stroke-width:0.7px" textLength="7.01" lengthAdjust="spacingAndGlyphs">3</text>
<line x1="420.339" y1="1024.8" x2="420.339" y2="1032" stroke="#2a2a2a" stroke-width="1.4"/>
<text x="414.14" y="1046.80" font-size="14" fill="#1a1a1a" color="#1a1a1a" style="stroke-width:0.7px" textLength="12.46" lengthAdjust="spacingAndGlyphs">33</text>
<text x="416.47" y="1003.60" font-size="14" fill="#1f5189" color="#1f5189" style="stroke-width:0.7px" textLength="7.01" lengthAdjust="spacingAndGlyphs">3</text>
<text x="417.39" y="1020.10" font-size="14" fill="#8a2430" color="#8a2430" style="stroke-width:0.7px" textLength="7.01" lengthAdjust="spacingAndGlyphs"> </text>
<path transform="translate(417.39,1020.10) scale(0.00615,-0.00684)" d="M515,0V1237L197,1010V1180L530,1409H696V0Z" fill="#8a2430" stroke="#8a2430" stroke-width="0.7" vector-effect="non-scaling-stroke"/>
<line x1="452.05800000000005" y1="1024.8" x2="452.05800000000005" y2="1032" stroke="#2a2a2a" stroke-width="1.4"/>
<text x="445.86" y="1046.80" font-size="14" fill="#1a1a1a" color="#1a1a1a" style="stroke-width:0.7px" textLength="12.46" lengthAdjust="spacingAndGlyphs">36</text>
<text x="448.15" y="1003.60" font-size="14" fill="#1f5189" color="#1f5189" style="stroke-width:0.7px" textLength="7.01" lengthAdjust="spacingAndGlyphs">2</text>
<text x="449.11" y="1020.10" font-size="14" fill="#8a2430" color="#8a2430" style="stroke-width:0.7px" textLength="7.01" lengthAdjust="spacingAndGlyphs"> </text>
<path transform="translate(449.11,1020.10) scale(0.00615,-0.00684)" d="M515,0V1237L197,1010V1180L530,1409H696V0Z" fill="#8a2430" stroke="#8a2430" stroke-width="0.7" vector-effect="non-scaling-stroke"/>
<line x1="483.77700000000004" y1="1024.8" x2="483.77700000000004" y2="1032" stroke="#2a2a2a" stroke-width="1.4"/>
<text x="477.60" y="1046.80" font-size="14" fill="#1a1a1a" color="#1a1a1a" style="stroke-width:0.7px" textLength="12.46" lengthAdjust="spacingAndGlyphs">39</text>
<text x="480.63" y="1003.60" font-size="14" fill="#1f5189" color="#1f5189" style="stroke-width:0.7px" textLength="7.01" lengthAdjust="spacingAndGlyphs"> </text>
<path transform="translate(480.63,1003.60) scale(0.00615,-0.00684)" d="M515,0V1237L197,1010V1180L530,1409H696V0Z" fill="#1f5189" stroke="#1f5189" stroke-width="0.7" vector-effect="non-scaling-stroke"/>
<text x="480.07" y="1020.10" font-size="14" fill="#8a2430" color="#8a2430" style="stroke-width:0.7px" textLength="7.01" lengthAdjust="spacingAndGlyphs">0</text>
<text x="233.24" y="1062.60" font-size="14" fill="#1a1a1a" color="#1a1a1a" style="stroke-width:0.7px" textLength="77.51" lengthAdjust="spacingAndGlyphs">Time (Months)</text>
<text x="62.00" y="988.20" font-size="14" fill="#1a1a1a" color="#1a1a1a" style="stroke-width:0.7px" textLength="80.01" lengthAdjust="spacingAndGlyphs">Patients at risk</text>
<text transform="translate(11.10,955.80) rotate(-90)" x="-1.00" y="0" font-size="15" fill="#1a1a1a" color="#1a1a1a" style="stroke-width:0.4px" textLength="156.56" lengthAdjust="spacingAndGlyphs">Probability of Overall Survival</text>
<line x1="284.9" y1="766.7" x2="325.3" y2="766.7" stroke="#1c5493" stroke-width="2"/>
<line x1="284" y1="782.6" x2="325.9" y2="782.6" stroke="#8c1b2c" stroke-width="2" stroke-dasharray="7.5 3.8"/>
<text x="329.91" y="771.40" font-size="12.5" fill="#1a1a1a" color="#1a1a1a" style="stroke-width:0.55px" textLength="168.34" lengthAdjust="spacingAndGlyphs">Overall survival, no prior HSCT</text>
<text x="329.92" y="787.20" font-size="12.5" fill="#1a1a1a" color="#1a1a1a" style="stroke-width:0.55px" textLength="149.86" lengthAdjust="spacingAndGlyphs">Overall survival, prior HSCT</text>
<line x1="333.8" y1="801.3" x2="333.8" y2="811.3" stroke="#111" stroke-width="2"/>
<text x="341.87" y="811.40" font-size="12.5" fill="#1a1a1a" color="#1a1a1a" style="stroke-width:0.55px" textLength="52.66" lengthAdjust="spacingAndGlyphs">Censored</text>
<path d="M71.3,741.00 H79.5 V756.87 H84.5 V788.60 H111.75 V804.47 H158.2 V820.33 H159.5 V836.20 H161.5 V852.07 H164.2 V867.93 H173.8 V883.80 H228.75 V899.67 H326.25 V915.53 H480" fill="none" stroke="#8c1b2c" stroke-width="2" stroke-linejoin="miter" stroke-linecap="butt" stroke-dasharray="5 4"/>
<path d="M71.3,741.00 H96.75 V752.33 H103 V763.67 H104.5 V775.00 H125.5 V786.33 H127 V797.67 H160.6 V809.00 H167.3 V820.33 H169 V831.67 H195 V843.00 H220.5 V854.33 H238.25 V865.67 H241.25 V877.00 H257.5 V888.33 H302 V899.67 H305 V911.00 H407.3 V927.50 H515.2" fill="none" stroke="#1c5493" stroke-width="2" stroke-linejoin="miter" stroke-linecap="butt"/>
<line x1="386.5" y1="904" x2="386.5" y2="910.7" stroke="#111" stroke-width="2"/>
<line x1="390" y1="904" x2="390" y2="910.7" stroke="#111" stroke-width="2"/>
<line x1="384.6" y1="909" x2="384.6" y2="915.5" stroke="#111" stroke-width="2"/>
<line x1="391" y1="909" x2="391" y2="915.5" stroke="#111" stroke-width="2"/>
<line x1="441.2" y1="920.8" x2="441.2" y2="927.5" stroke="#111" stroke-width="1.4"/>
<line x1="460.4" y1="920.8" x2="460.4" y2="927.5" stroke="#111" stroke-width="1.4"/>
<line x1="480" y1="908.7" x2="480" y2="915.5" stroke="#111" stroke-width="1.4"/>
</svg></body></html>
